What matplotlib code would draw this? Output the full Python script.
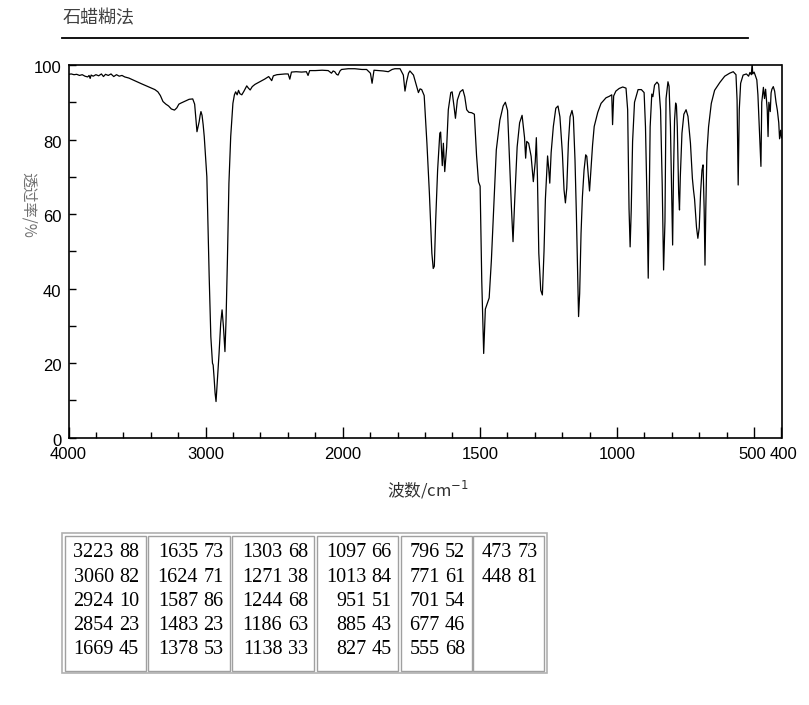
import numpy as np
import matplotlib
matplotlib.use('Agg')
import matplotlib.pyplot as plt
from matplotlib.patches import Rectangle
from matplotlib.transforms import ScaledTranslation

plt.rcParams['font.family'] = ['Noto Sans CJK SC', 'DejaVu Sans']

# spectrum (cm-1, %T)
wavenumber = [4000, 3980, 3960, 3940, 3920, 3900, 3880, 3860, 3850, 3842, 3835, 3820, 3800, 3780, 3760,
              3745, 3730, 3710, 3690, 3670, 3650, 3630, 3610, 3590, 3560, 3530, 3500, 3470, 3444, 3420,
              3395, 3370, 3348, 3330, 3311, 3290, 3270, 3250, 3227, 3210, 3195, 3179, 3150, 3120, 3094,
              3080, 3070, 3063, 3055, 3047, 3040, 3034, 3026, 3018, 3010, 2991, 2974, 2962, 2950, 2945,
              2938, 2931, 2924, 2914, 2902, 2890, 2880, 2870, 2859, 2851, 2841, 2830, 2817, 2801, 2790,
              2781, 2770, 2760, 2750, 2736, 2720, 2700, 2688, 2675, 2660, 2640, 2620, 2600, 2570, 2540,
              2518, 2506, 2480, 2450, 2420, 2398, 2386, 2374, 2340, 2300, 2265, 2253, 2241, 2200, 2150,
              2106, 2082, 2070, 2058, 2045, 2034, 2020, 2009, 1980, 1956, 1930, 1913, 1899, 1893, 1886,
              1870, 1852, 1834, 1820, 1810, 1791, 1779, 1773, 1767, 1760, 1755, 1742, 1730, 1724, 1718,
              1712, 1703, 1693, 1684, 1675, 1670, 1666, 1661, 1654, 1646, 1643, 1637, 1633, 1628, 1621,
              1615, 1606, 1601, 1594, 1589, 1582, 1572, 1562, 1555, 1548, 1540, 1530, 1520, 1512, 1505,
              1499, 1493, 1486, 1480, 1474, 1466, 1458, 1448, 1440, 1427, 1415, 1407, 1399, 1392, 1385,
              1379, 1373, 1364, 1355, 1346, 1337, 1333, 1329, 1322, 1313, 1305, 1298, 1294, 1290, 1285,
              1278, 1272, 1266, 1261, 1256, 1253, 1249, 1245, 1240, 1232, 1223, 1215, 1208, 1199, 1193,
              1188, 1183, 1177, 1171, 1164, 1159, 1153, 1148, 1143, 1140, 1136, 1131, 1126, 1120, 1114,
              1110, 1105, 1100, 1095, 1089, 1083, 1070, 1058, 1040, 1028, 1019, 1016, 1012, 1004, 992,
              979, 967, 961, 956, 952, 948, 943, 936, 923, 911, 901, 896, 890, 886, 883,
              879, 873, 869, 863, 854, 848, 841, 835, 830, 825, 821, 814, 810, 805, 801,
              797, 794, 790, 786, 783, 780, 775, 772, 769, 763, 756, 748, 741, 732, 725,
              721, 717, 710, 705, 700, 695, 690, 686, 682, 679, 676, 672, 666, 656, 644,
              625, 607, 589, 576, 566, 562, 558, 554, 549, 540, 528, 520, 515, 510, 507,
              505, 500, 496, 490, 486, 475, 472, 466, 462, 458, 452, 449, 446, 441, 438,
              435, 430, 425, 420, 415, 410, 407, 403, 400]
transmittance = [97.5, 97.6, 97.4, 97.5, 97.2, 97.4, 97.0, 96.8, 97.2, 96.4, 97.3, 97.0, 97.4, 97.1, 97.6,
                 96.9, 97.5, 97.2, 97.6, 96.9, 97.4, 97.0, 97.2, 96.8, 96.5, 96.0, 95.5, 95.0, 94.6, 94.2,
                 93.8, 93.4, 92.8, 91.8, 90.2, 89.5, 89.0, 88.2, 87.9, 88.5, 89.5, 89.8, 90.3, 90.8, 90.9,
                 89.5, 85.0, 82.1, 83.5, 84.8, 86.5, 87.5, 86.5, 84.0, 80.8, 70.0, 43.2, 27.1, 20.0, 19.5,
                 16.0, 12.0, 9.7, 15.5, 22.6, 30.7, 34.3, 29.8, 23.1, 31.6, 47.7, 68.3, 80.8, 89.7, 92.0,
                 92.8, 92.0, 93.2, 92.3, 92.0, 93.0, 94.4, 93.8, 93.3, 94.2, 94.8, 95.2, 95.6, 96.2, 96.9,
                 95.8, 97.1, 97.4, 97.5, 97.6, 97.6, 96.2, 98.1, 98.2, 98.1, 98.2, 97.2, 98.5, 98.5, 98.6,
                 98.5, 97.8, 98.4, 98.2, 97.5, 97.3, 98.4, 98.8, 99.0, 99.0, 98.8, 98.8, 97.8, 95.1, 98.6,
                 98.5, 98.4, 98.2, 98.8, 99.0, 99.0, 97.3, 93.0, 95.6, 97.8, 98.4, 97.3, 94.2, 92.6, 93.6,
                 93.4, 91.8, 79.0, 65.6, 49.5, 45.4, 46.0, 58.4, 71.8, 81.7, 82.0, 73.0, 79.0, 71.4, 78.0,
                 88.0, 92.6, 92.8, 88.8, 85.7, 90.6, 92.8, 93.4, 91.5, 88.0, 87.3, 87.2, 86.8, 75.7, 68.7,
                 67.5, 42.0, 22.6, 34.5, 35.8, 37.5, 47.5, 63.8, 77.2, 85.2, 89.0, 90.0, 87.8, 75.0, 62.0,
                 52.6, 63.5, 78.0, 84.5, 86.5, 80.5, 75.0, 79.5, 79.0, 75.5, 68.7, 74.0, 80.5, 70.0, 49.5,
                 39.6, 38.3, 50.0, 64.0, 71.0, 75.6, 72.3, 68.3, 76.5, 83.5, 88.4, 89.0, 86.1, 76.3, 66.5,
                 63.0, 67.0, 79.3, 86.1, 87.8, 86.0, 74.5, 60.0, 42.0, 32.5, 38.7, 54.8, 64.6, 71.8, 75.9,
                 75.5, 71.0, 66.2, 72.0, 78.5, 83.5, 87.3, 89.7, 91.2, 91.6, 92.0, 84.0, 91.7, 93.0, 93.7,
                 94.1, 93.8, 88.0, 61.5, 51.2, 61.0, 79.5, 90.0, 93.4, 93.4, 92.6, 83.4, 62.0, 42.8, 61.0,
                 83.4, 92.2, 91.5, 94.6, 95.4, 94.8, 87.9, 68.0, 45.0, 58.0, 91.0, 95.5, 94.3, 83.4, 67.3,
                 51.7, 70.0, 85.2, 89.8, 89.0, 83.4, 65.6, 61.1, 70.0, 81.7, 86.8, 88.0, 86.2, 79.0, 69.6,
                 66.5, 64.0, 56.5, 53.5, 56.3, 65.8, 71.8, 73.2, 61.1, 46.3, 61.5, 76.5, 83.4, 89.7, 93.2,
                 95.3, 97.0, 97.8, 98.2, 97.4, 90.6, 67.8, 88.0, 95.1, 97.3, 97.6, 97.0, 98.0, 97.4, 100.5,
                 97.6, 98.1, 97.3, 96.0, 92.0, 72.8, 90.0, 94.0, 91.0, 93.5, 88.0, 80.8, 90.0, 87.5, 92.5,
                 93.5, 94.2, 93.0, 90.0, 87.8, 84.5, 80.2, 82.5, 80.5]

# peak table
peak_wn = [3223, 3060, 2924, 2854, 1669, 1635, 1624, 1587, 1483, 1378, 1303, 1271, 1244, 1186,
           1138, 1097, 1013, 951, 885, 827, 796, 771, 701, 677, 555, 473, 448]
peak_t = [88, 82, 10, 23, 45, 73, 71, 86, 23, 53, 68, 38, 68, 63,
          33, 66, 84, 51, 43, 45, 52, 61, 54, 46, 68, 73, 81]

W, H = 809, 705


def fx(px):
    return px / W


def fy(py):
    return 1 - py / H


def fwd(x):
    x = np.asarray(x, float)
    return np.where(x > 2000, 2000 + (x - 2000) / 2, x)


def inv(y):
    y = np.asarray(y, float)
    return np.where(y > 2000, 2000 + (y - 2000) * 2, y)


fig = plt.figure(figsize=(W / 100, H / 100), dpi=100)
ax = fig.add_axes([fx(68.5), fy(437.7), (781.5 - 68.5) / W, (437.7 - 65) / H])
ax.set_xscale('function', functions=(fwd, inv))
ax.plot(wavenumber, transmittance, color='black', lw=0.9)
ax.set_xlim(4000, 400)
ax.set_ylim(0, 100)

tick_font = dict(family='Liberation Sans', size=12)
ax.set_xticks([4000, 3000, 2000, 1500, 1000, 500, 400])
ax.set_xticklabels(['4000', '3000', '2000', '1500', '1000', '500', '400'], fontdict=tick_font)
ax.set_xticks([3800, 3600, 3400, 3200, 2800, 2600, 2400, 2200,
               1900, 1800, 1700, 1600, 1400, 1300, 1200, 1100, 900, 800, 700, 600], minor=True)
ax.set_yticks([0, 20, 40, 60, 80, 100])
ax.set_yticklabels(['0', '20', '40', '60', '80', '100'], fontdict=tick_font)
ax.set_yticks([10, 30, 50, 70, 90], minor=True)
ax.tick_params(axis='x', which='major', direction='in', length=8, width=1, pad=7)
ax.tick_params(axis='x', which='minor', direction='in', length=4, width=1)
ax.tick_params(axis='y', which='both', direction='in', length=5, width=1, pad=5)
for sp in ax.spines.values():
    sp.set_linewidth(1.2)
off = ScaledTranslation(0, -2 / 100, fig.dpi_scale_trans)
for lab in ax.get_yticklabels():
    lab.set_transform(lab.get_transform() + off)
# keep "500" and "400" apart at the right end
xl = ax.get_xticklabels()
xl[5].set_transform(xl[5].get_transform() + ScaledTranslation(-1.5 / 100, 0, fig.dpi_scale_trans))
xl[6].set_transform(xl[6].get_transform() + ScaledTranslation(2.5 / 100, 0, fig.dpi_scale_trans))

fig.text(fx(428), fy(490), '波数/cm$^{-1}$', ha='center', va='center', fontsize=12, color='#303030')
fig.text(fx(28), fy(205), '透过率/%', ha='center', va='center', rotation=270, fontsize=11, color='#707070')

# title and rule
fig.text(fx(63), fy(18), '石蜡糊法', ha='left', va='center', fontsize=13, color='#404040')
fig.add_artist(plt.Line2D([fx(62), fx(748)], [fy(38), fy(38)], color='black', lw=1.3))

# peak table
fig.add_artist(Rectangle((fx(62.3), fy(672.7)), (546.7 - 62.3) / W, (672.7 - 533) / H,
                         fill=False, ec='#b0b0b0', lw=1.2))
cells = [(65, 145.7), (147.7, 230), (232.3, 314.3), (316.7, 398.3), (400.7, 471.7), (473.3, 544.3)]
for c, (x0, x1) in enumerate(cells):
    fig.add_artist(Rectangle((fx(x0), fy(670.7)), (x1 - x0) / W, (670.7 - 536) / H,
                             fill=False, ec='#a0a0a0', lw=1))
    for r in range(5):
        i = c * 5 + r
        if i >= len(peak_wn):
            break
        yy = fy(552.7 + r * 24.3)
        fig.text(fx(x1 - 32), yy, str(peak_wn[i]), ha='right', va='center',
                 family='Liberation Serif', fontsize=14.5)
        fig.text(fx(x1 - 6.5), yy, str(peak_t[i]), ha='right', va='center',
                 family='Liberation Serif', fontsize=14.5)

fig.savefig('out.png', dpi=100)
